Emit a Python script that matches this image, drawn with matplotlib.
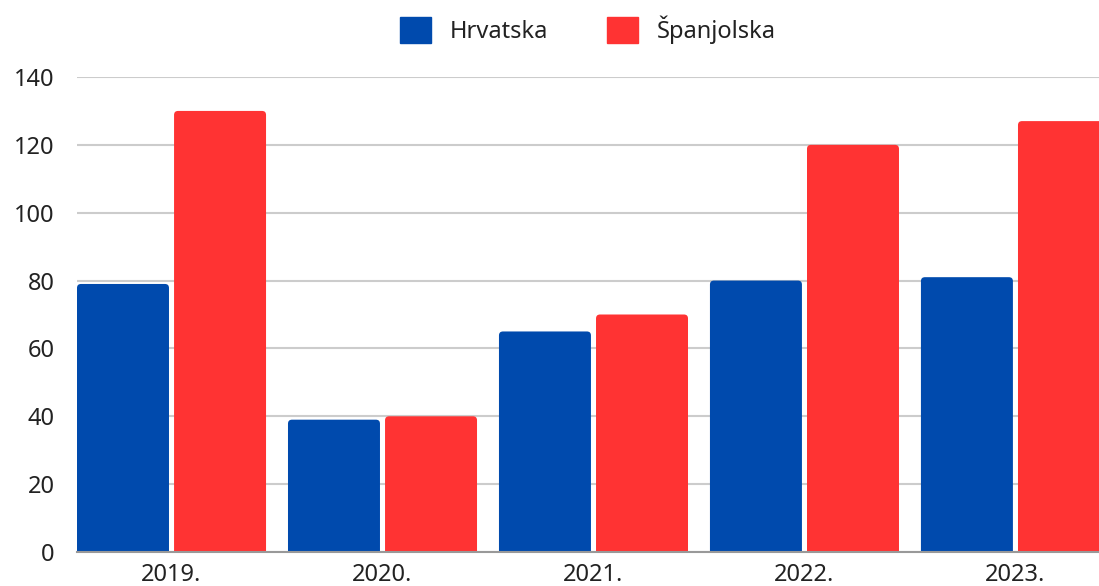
import numpy as np
import matplotlib.pyplot as plt
from matplotlib.patches import Patch, FancyBboxPatch

# data
years = ['2019.', '2020.', '2021.', '2022.', '2023.']
hrvatska = [79, 39, 65, 80, 81]
spanjolska = [130, 40, 70, 120, 127]

blue = '#004aad'
red = '#ff3333'

plt.rcParams['font.family'] = ['Noto Sans', 'DejaVu Sans']

fig = plt.figure(figsize=(10.99, 5.86), dpi=100)
ax = fig.add_axes([77/1099, 34/586, 1 - 77/1099, (552-77)/586])

ax.set_xlim(-0.448, 4.396)
ax.set_ylim(0, 140)

x = np.arange(len(years))
w = 0.436
bars1 = ax.bar(x - 0.23, hrvatska, width=w, color=blue, zorder=3)
bars2 = ax.bar(x + 0.23, spanjolska, width=w, color=red, zorder=3)

# swap the plain rectangles for ones with rounded tops (bottom hidden below 0)
px_x = (4.396 + 0.448) / 1022
px_y = 140 / 475
for r in list(bars1) + list(bars2):
    rx, ry = r.get_x(), r.get_y()
    rw, rh = r.get_width(), r.get_height()
    p = FancyBboxPatch((rx, ry - 3), rw, rh + 3,
                       boxstyle='round,pad=0,rounding_size=%f' % (4 * px_x),
                       mutation_aspect=px_y / px_x,
                       facecolor=r.get_facecolor(), edgecolor='none', zorder=3)
    r.remove()
    ax.add_patch(p)

ax.set_yticks(range(0, 141, 20))
ax.set_xticks(x)
ax.set_xticklabels(years)
ax.grid(axis='y', color='#cccccc', linewidth=1.5, zorder=0)
ax.tick_params(axis='both', length=0, labelsize=17, colors='#222222')
ax.tick_params(axis='y', pad=16)
ax.tick_params(axis='x', pad=8)
for s in ['top', 'right', 'left']:
    ax.spines[s].set_visible(False)
ax.spines['bottom'].set_color('#999999')
ax.spines['bottom'].set_linewidth(1.5)
ax.spines['bottom'].set_zorder(4)

handles = [Patch(color=blue, label='Hrvatska'), Patch(color=red, label='Španjolska')]
fig.legend(handles=handles, loc='center', bbox_to_anchor=(588/1099, 1 - 30/586),
           ncol=2, frameon=False, fontsize=17, handlelength=1.3, handleheight=1.3,
           handletextpad=0.8, columnspacing=2.5, labelcolor='#222222')

fig.savefig('out.png', dpi=100)
